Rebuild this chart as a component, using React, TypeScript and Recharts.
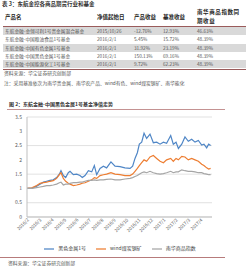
import React from 'react';
import { LineChart, Line, XAxis, YAxis, CartesianGrid, Legend } from 'recharts';

const tableTitle = '表 3：东航金控各商品期货行业和基金';
const tableHeaders = ['产品名', '净值起始日', '产品收益', '基准收益', '南华商品指数同期收益'];
const productNames = [
  '东航金融-金翎可利1号贵金属混合基金',
  '东航金融-中国粮油食品1号基金',
  '东航金融-中国有色金属1号基金',
  '东航金融-中国黑色金属1号基金',
  '东航金融-中国能源化工1号基金',
];
const startDates = ['2015/10/26', '2016/2/1', '2016/2/1', '2016/2/1', '2016/2/1'];
const productReturns = ['-12.76%', '5.45%', '31.92%', '150.13%', '9.72%'];
const benchReturns = ['12.93%', '15.72%', '23.19%', '69.16%', '62.23%'];
const nanhuaReturns = ['46.63%', '48.39%', '48.39%', '48.39%', '48.39%'];
const sourceText = '资料来源：华宝证券研究创新部';
const noteText = '注：采用基准依次为南华贵金属、南华农产品、wind有色、wind煤炭钢矿、南华能化';
const chartTitle = '图 2：东航金融-中国黑色金属1号基金净值走势';

const monthLabels = ['2016/2', '2016/3', '2016/4', '2016/5', '2016/6', '2016/7', '2016/8', '2016/9', '2016/10', '2016/11', '2016/12', '2017/1', '2017/2', '2017/3', '2017/4'];
const yTicks = [0, 0.5, 1, 1.5, 2, 2.5, 3, 3.5];
const seriesNames = ['黑色金属1号', 'wind煤炭钢矿', '南华商品指数'];

// months since 2016/2/1
const tMonths = [0, 0.38, 0.78, 1.05, 1.32, 1.59, 1.85, 2.12, 2.39, 2.61, 2.74, 2.93, 3.12, 3.33, 3.47, 3.74, 4.01, 4.27, 4.46, 4.68, 4.95, 5.22, 5.43, 5.62, 5.89, 6.16, 6.42, 6.77, 7.1, 7.5, 7.9, 8.31, 8.52, 8.71, 8.9, 9.06, 9.25, 9.44, 9.65, 9.92, 10.19, 10.46, 10.73, 11.0, 11.26, 11.59, 11.8, 12.02, 12.21, 12.48, 12.74, 13.01, 13.28, 13.55, 13.82, 14.09, 14.27, 14.49, 14.65, 14.81];
const blackMetal = [1.0, 1.0, 1.08, 1.15, 1.22, 1.25, 1.28, 1.3, 1.38, 1.5, 1.62, 1.45, 1.38, 1.55, 1.6, 1.48, 1.5, 1.45, 1.38, 1.45, 1.62, 1.58, 1.8, 1.48, 1.7, 1.78, 1.72, 1.93, 1.78, 1.76, 1.72, 1.7, 1.78, 2.05, 2.25, 2.55, 2.62, 2.93, 2.75, 2.9, 2.6, 2.62, 2.55, 2.62, 2.58, 2.85, 2.55, 2.62, 2.4, 2.55, 2.8, 2.65, 2.72, 2.62, 2.68, 2.52, 2.55, 2.42, 2.55, 2.5];
const windCoal = [1.0, 1.02, 1.1, 1.18, 1.2, 1.22, 1.25, 1.27, 1.35, 1.48, 1.55, 1.35, 1.25, 1.18, 1.15, 1.1, 1.12, 1.15, 1.18, 1.2, 1.25, 1.3, 1.38, 1.35, 1.45, 1.48, 1.5, 1.55, 1.5, 1.48, 1.45, 1.45, 1.5, 1.6, 1.7, 1.8, 1.9, 2.0, 1.95, 2.1, 2.15, 2.05, 1.95, 1.9, 2.0, 2.05, 1.95, 2.05, 2.0, 2.12, 2.1, 2.0, 2.05, 2.0, 1.95, 1.85, 1.8, 1.72, 1.68, 1.7];
const nanhua = [1.0, 1.0, 1.03, 1.05, 1.07, 1.1, 1.1, 1.12, 1.15, 1.2, 1.22, 1.12, 1.15, 1.15, 1.18, 1.2, 1.2, 1.22, 1.22, 1.25, 1.28, 1.28, 1.3, 1.28, 1.3, 1.3, 1.32, 1.33, 1.3, 1.3, 1.33, 1.35, 1.38, 1.42, 1.45, 1.5, 1.55, 1.58, 1.55, 1.6, 1.55, 1.52, 1.5, 1.52, 1.55, 1.6, 1.55, 1.58, 1.58, 1.65, 1.62, 1.6, 1.6, 1.58, 1.55, 1.55, 1.52, 1.5, 1.48, 1.48];

const data = tMonths.map((t, i) => ({ t, a: blackMetal[i], b: windCoal[i], c: nanhua[i] }));

const FONT = '"Noto Sans CJK SC", "Noto Sans", sans-serif';
const colX = [5, 97, 134, 163, 197];
const ROW_TOP = 27;
const ROW_H = 8.3;

const txt = (left: number, top: number, size: number, color: string, bold = false, lh = 8): React.CSSProperties => ({
  position: 'absolute', left, top, fontSize: size, color, fontWeight: bold ? 700 : 400,
  whiteSpace: 'nowrap', lineHeight: `${lh}px`, fontFamily: FONT,
});

export default function App() {
  const rows = productNames.map((n, i) => [n, startDates[i], productReturns[i], benchReturns[i], nanhuaReturns[i]]);
  return (
    <div style={{ position: 'absolute', left: 0, top: 0, width: 246, height: 266, background: '#fff', overflow: 'hidden', fontFamily: FONT }}>
      <div style={txt(2, 0, 5.5, '#333', true)}>{tableTitle}</div>
      {tableHeaders.map((h, i) =>
        i < 4 ? (
          <div key={h} style={txt(colX[i], 13, 5.5, '#222', true)}>{h}</div>
        ) : (
          <div key={h} style={{ ...txt(colX[i], 8, 5.5, '#222', true, 9), letterSpacing: 0.6 }}>
            {h.slice(0, 7)}<br />{h.slice(7)}
          </div>
        )
      )}
      <div style={{ position: 'absolute', left: 3, top: 26, width: 243, height: 1, background: '#9a5b5b' }} />
      {rows.map((r, ri) => (
        <div key={ri} style={{ position: 'absolute', left: 3, top: ROW_TOP + ri * ROW_H, width: 243, height: ROW_H, background: ri % 2 === 0 ? '#d9d9d9' : '#fff' }}>
          {r.map((c, ci) => (
            <div key={ci} style={txt(colX[ci] - 3, 0, 4.7, '#555', false, ROW_H)}>{c}</div>
          ))}
        </div>
      ))}
      <div style={{ position: 'absolute', left: 3, top: ROW_TOP + 5 * ROW_H, width: 243, height: 1, background: '#9a5b5b' }} />
      <div style={txt(4, 69, 4.8, '#555')}>{sourceText}</div>
      <div style={txt(4, 79, 4.8, '#555')}>{noteText}</div>
      <div style={txt(9, 100, 5, '#333', true)}>{chartTitle}</div>
      <div style={{ position: 'absolute', left: 7, top: 108.5, width: 218, height: 1, background: '#c49292' }} />

      <div style={{ position: 'absolute', left: 0, top: 108 }}>
        <LineChart width={246} height={158} data={data} margin={{ top: 9, right: 34, left: 0, bottom: 29 }}>
          <CartesianGrid vertical={false} stroke="#d9d9d9" strokeWidth={0.8} />
          <XAxis
            type="number"
            dataKey="t"
            domain={[0, 14.92]}
            ticks={monthLabels.map((_, i) => i)}
            tickFormatter={(v: number) => monthLabels[v]}
            interval={0}
            angle={-45}
            textAnchor="end"
            height={20}
            tickLine={false}
            tickSize={0}
            tickMargin={1}
            axisLine={{ stroke: '#bfbfbf' }}
            tick={{ fontSize: 4.6, fill: '#595959', fontFamily: FONT }}
          />
          <YAxis
            type="number"
            domain={[0, 3.5]}
            ticks={yTicks}
            width={27}
            tickLine={false}
            tickSize={3}
            tickMargin={2}
            axisLine={{ stroke: '#bfbfbf' }}
            tick={{ fontSize: 5, fill: '#595959', fontFamily: FONT }}
          />
          <Legend
            verticalAlign="middle"
            layout="horizontal"
            align="center"
            iconSize={10}
            itemSorter="dataKey"
            wrapperStyle={{ top: 136, left: 30, width: 190, lineHeight: '8px', fontSize: 5, fontFamily: FONT }}
            formatter={(v: string) => <span style={{ color: '#404040', fontSize: 5 }}>{v}</span>}
          />
          <Line type="linear" dataKey="a" name={seriesNames[0]} stroke="#4f86c6" strokeWidth={1.2} dot={false} legendType="plainline" isAnimationActive={false} />
          <Line type="linear" dataKey="b" name={seriesNames[1]} stroke="#ed7d31" strokeWidth={1.2} dot={false} legendType="plainline" isAnimationActive={false} />
          <Line type="linear" dataKey="c" name={seriesNames[2]} stroke="#a5a5a5" strokeWidth={1.2} dot={false} legendType="plainline" isAnimationActive={false} />
        </LineChart>
      </div>

      <div style={{ position: 'absolute', left: 0, top: 256.5, width: 225, height: 1, background: '#b77b7b' }} />
      <div style={txt(8, 258.5, 4.8, '#555')}>{sourceText}</div>
    </div>
  );
}
